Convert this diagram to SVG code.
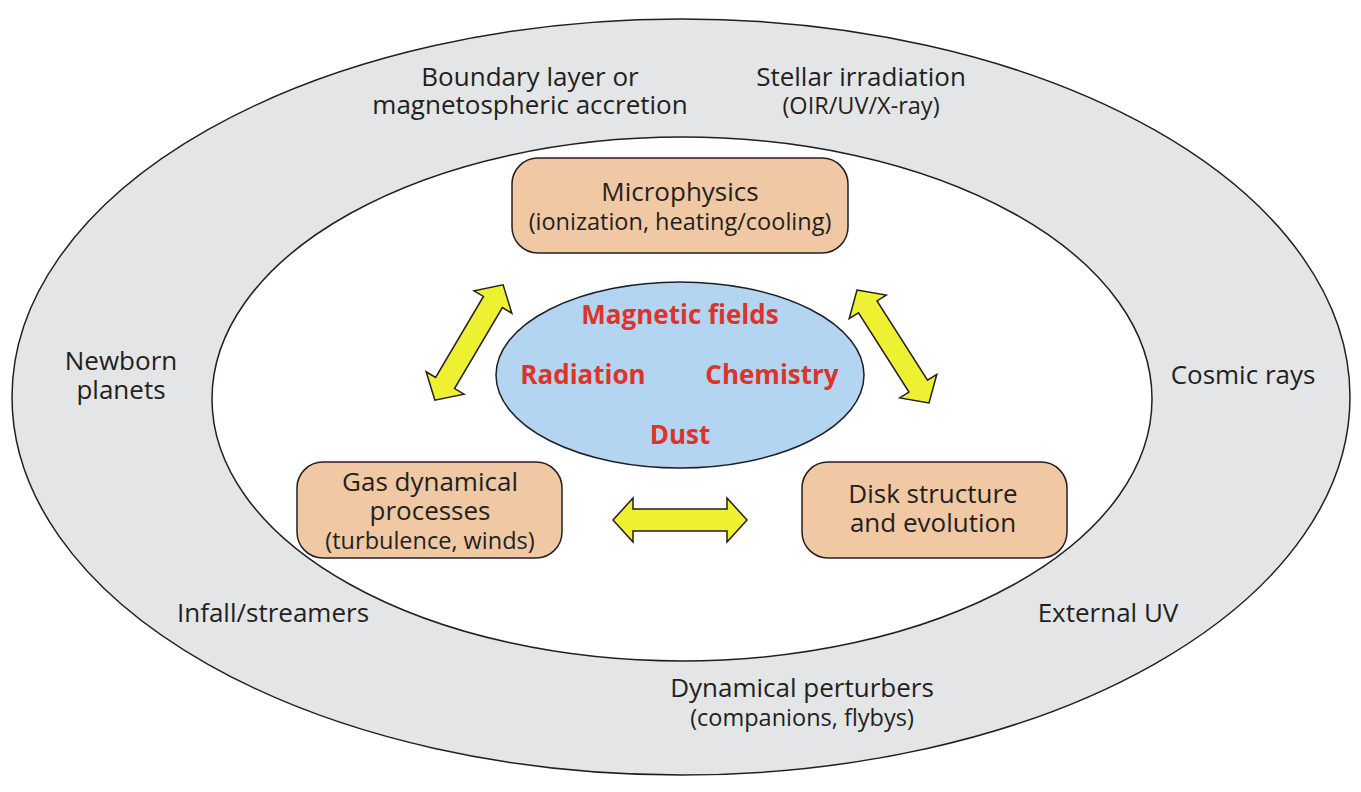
<svg xmlns="http://www.w3.org/2000/svg" width="1361" height="792" viewBox="0 0 1361 792">
<style>
.t{font-family:"Open Sans","Liberation Sans",sans-serif;fill:#231f20;text-anchor:middle;font-size:26px}
.s{font-size:23.5px}
.r{font-family:"Open Sans","Liberation Sans",sans-serif;fill:#dd3329;text-anchor:middle;font-size:26px;font-weight:bold}
.box{fill:#f0c8a3;stroke:#231f20;stroke-width:1.5}
.arr{fill:#eef032;stroke:#231f20;stroke-width:1.5;stroke-linejoin:miter}
</style>
<defs>
<path id="dblarrow" d="M-67,0 L-47,-22 L-47,-11 L47,-11 L47,-22 L67,0 L47,22 L47,11 L-47,11 L-47,22 Z"/>
</defs>
<rect width="1361" height="792" fill="#ffffff"/>
<g id="outer-ring">
<ellipse cx="681" cy="397" rx="669" ry="378" fill="#e4e5e6" stroke="#231f20" stroke-width="1.5"/>
</g>
<g id="inner-disk">
<ellipse cx="682" cy="399" rx="470" ry="262" fill="#ffffff" stroke="#231f20" stroke-width="1.5"/>
</g>
<g id="center">
<ellipse cx="680" cy="375" rx="184" ry="93" fill="#b3d5f2" stroke="#231f20" stroke-width="1.5"/>
<text class="r" x="680" y="324">Magnetic fields</text>
<text class="r" x="583" y="384">Radiation</text>
<text class="r" x="772" y="384">Chemistry</text>
<text class="r" x="680" y="444">Dust</text>
</g>
<g id="microphysics">
<rect class="box" x="512" y="158" width="336" height="95" rx="26"/>
<text class="t" x="680" y="201">Microphysics</text>
<text class="t s" x="680" y="230">(ionization, heating/cooling)</text>
</g>
<g id="gas-dynamics">
<rect class="box" x="297" y="462" width="265" height="96" rx="26"/>
<text class="t" x="430" y="491">Gas dynamical</text>
<text class="t" x="430" y="520">processes</text>
<text class="t s" x="430" y="549">(turbulence, winds)</text>
</g>
<g id="disk-structure">
<rect class="box" x="802" y="462" width="265" height="96" rx="26"/>
<text class="t" x="933" y="503">Disk structure</text>
<text class="t" x="933" y="532">and evolution</text>
</g>
<g id="connectors">
<use href="#dblarrow" class="arr" transform="translate(469,342.5) rotate(-59.4)"/>
<use href="#dblarrow" class="arr" transform="translate(893,346.5) rotate(57.5)"/>
<use href="#dblarrow" class="arr" transform="translate(680,520)"/>
</g>
<g id="outer-labels">
<text class="t" x="530" y="86">Boundary layer or</text>
<text class="t" x="530" y="114">magnetospheric accretion</text>
<text class="t" x="861" y="86">Stellar irradiation</text>
<text class="t s" x="861" y="114">(OIR/UV/X-ray)</text>
<text class="t" x="121" y="370">Newborn</text>
<text class="t" x="121" y="399">planets</text>
<text class="t" x="1243" y="384">Cosmic rays</text>
<text class="t" x="273" y="622">Infall/streamers</text>
<text class="t" x="1108" y="622">External UV</text>
<text class="t" x="802" y="697">Dynamical perturbers</text>
<text class="t s" x="802" y="726">(companions, flybys)</text>
</g>
</svg>
